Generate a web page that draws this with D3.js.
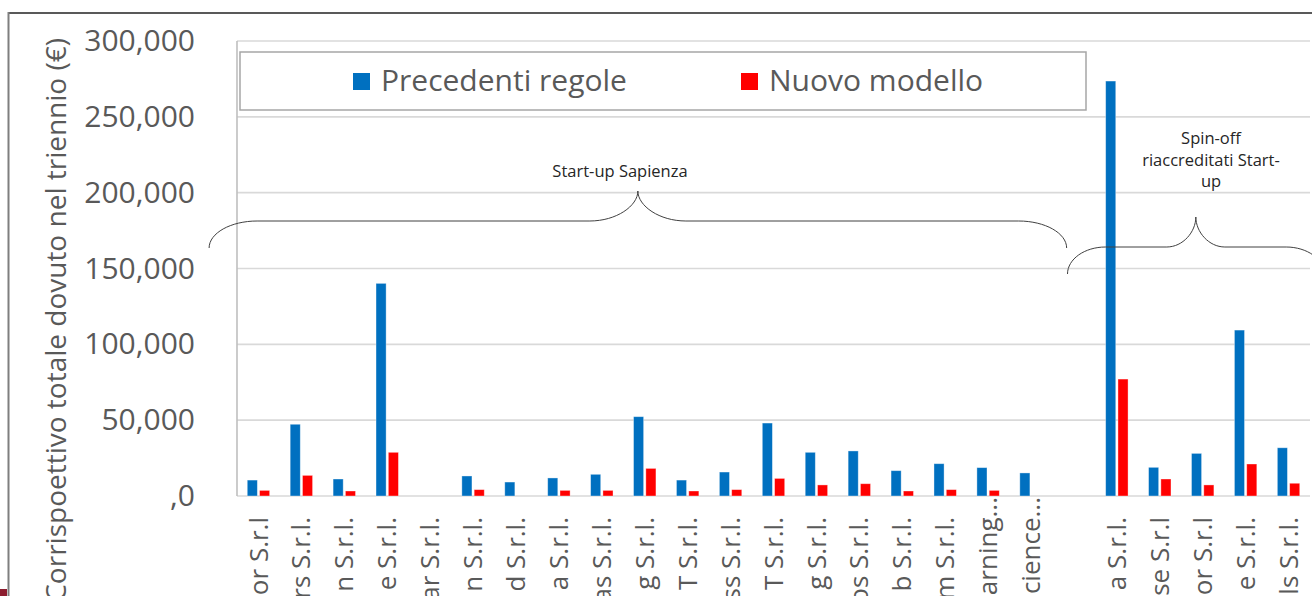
<!DOCTYPE html>
<html><head><meta charset="utf-8">
<script src="https://cdn.jsdelivr.net/npm/d3@7"></script>
<style>html,body{margin:0;padding:0;background:#fff;overflow:hidden}</style>
</head><body>
<svg id="chart" width="1312" height="596"></svg>
<script>
// ---- data ----
const categories = ["or S.r.l","rs S.r.l.","n S.r.l.","e S.r.l.","ar S.r.l.","n S.r.l.","d S.r.l.","a S.r.l.","as S.r.l.","g S.r.l.","T S.r.l.","ss S.r.l.","T S.r.l.","g S.r.l.","os S.r.l.","b S.r.l.","m S.r.l.","arning...","cience...","","a S.r.l.","se S.r.l","or S.r.l","e S.r.l.","ls S.r.l."];
const precedentiRegole = [10500,47300,11200,140200,0,13200,9200,11900,14300,52300,10500,15800,48100,28800,29700,16700,21300,18700,15200,null,273600,18900,28100,109400,31800];
const nuovoModello = [3700,13600,3300,28800,0,4200,0,3700,3700,18200,3300,4200,11600,7300,8100,3300,4200,3700,0,null,77100,11200,7300,21100,8400];
const seriesNames = ["Precedenti regole","Nuovo modello"];
const seriesColors = ["#0070C0","#FF0000"];
const yTickValues = [0,50000,100000,150000,200000,250000,300000];
const yTickLabels = [",0","50,000","100,000","150,000","200,000","250,000","300,000"];
const yTitle = "Corrispoettivo totale dovuto nel triennio (€)";
const groupLabels = [["Start-up Sapienza"],["Spin-off","riaccreditati Start-","up"]];
const groupFirst = [0,20];
const groupLast = [18,24];

// ---- chart ----
const W=1312,H=596;
const font="'Open Sans', sans-serif";
const svg=d3.select("#chart");
const seriesValues=[precedentiRegole,nuovoModello];

const x=d3.scaleBand().domain(d3.range(categories.length)).range([237,1310]).padding(0);
const y=d3.scaleLinear().domain([0,300000]).range([496,41]);
const groupW=22.4;
const x1=d3.scaleBand().domain(d3.range(seriesNames.length)).range([0,groupW]).paddingInner(0.18);
const color=d3.scaleOrdinal().domain(d3.range(seriesNames.length)).range(seriesColors);

// outer frame
svg.append("line").attr("x1",8).attr("x2",W).attr("y1",13).attr("y2",13).attr("stroke","#595959").attr("stroke-width",2);
svg.append("line").attr("x1",8.5).attr("x2",8.5).attr("y1",12).attr("y2",H).attr("stroke","#7f7f7f").attr("stroke-width",2);
svg.append("rect").attr("x",0).attr("y",589).attr("width",7).attr("height",7).attr("fill","#8c1d2f");

// gridlines
svg.append("g").selectAll("line").data(yTickValues).join("line")
  .attr("x1",x.range()[0]).attr("x2",x.range()[1])
  .attr("y1",d=>y(d)).attr("y2",d=>y(d))
  .attr("stroke","#d9d9d9").attr("stroke-width",1.6);

// y axis
const yAxis=d3.axisLeft(y).tickValues(yTickValues).tickFormat((d,i)=>yTickLabels[i]).tickSize(0).tickPadding(42);
const gy=svg.append("g").attr("transform",`translate(${x.range()[0]},0)`).call(yAxis);
gy.select(".domain").remove();
gy.selectAll("text").attr("font-family",font).attr("font-size",30).attr("fill","#595959");
svg.append("line").attr("x1",x.range()[0]).attr("x2",x.range()[0]).attr("y1",y(300000)).attr("y2",y(0))
  .attr("stroke","#bfbfbf").attr("stroke-width",1.6);

// y title
svg.append("text").attr("transform","translate(66,38) rotate(-90)")
  .attr("text-anchor","end").attr("font-family",font).attr("font-size",28).attr("fill","#595959")
  .text(yTitle);

// bars
const flat=[];
categories.forEach((c,i)=>seriesValues.forEach((arr,s)=>{ if(arr[i]!=null) flat.push({i,s,v:arr[i]}); }));
svg.append("g").selectAll("rect").data(flat).join("rect")
  .attr("x",d=>x(d.i)+(x.bandwidth()-groupW)/2+x1(d.s))
  .attr("width",x1.bandwidth())
  .attr("y",d=>y(d.v))
  .attr("height",d=>y(0)-y(d.v))
  .attr("fill",d=>color(d.s))
  .attr("stroke","rgba(255,255,255,0.45)").attr("stroke-width",0.8);

// x labels
svg.append("g").selectAll("text").data(categories.map((c,i)=>({c,i}))).join("text")
  .attr("transform",d=>`translate(${x(d.i)+x.bandwidth()/2},${d.c.endsWith("...")?497:517}) rotate(-90)`)
  .attr("dy","0.35em").attr("text-anchor","end")
  .attr("font-family",font).attr("font-size",26).attr("fill","#595959")
  .text(d=>d.c);

// legend
const lg=svg.append("g");
lg.append("rect").attr("x",240).attr("y",52).attr("width",846).attr("height",58)
  .attr("fill","#fff").attr("stroke","#a6a6a6").attr("stroke-width",1.5);
const legX=[353,741];
seriesNames.forEach((n,s)=>{
  lg.append("rect").attr("x",legX[s]).attr("y",73).attr("width",17).attr("height",17).attr("fill",color(s));
  lg.append("text").attr("x",legX[s]+28).attr("y",91).attr("font-family",font).attr("font-size",30)
    .attr("fill","#595959").text(n);
});

// braces
function bracePath(x0,x1b,yEnd,yMid,yTip,endW,tipW){
  const xm=(x0+x1b)/2;
  const ey=yEnd-yMid, ty=yMid-yTip;
  return `M${x0},${yEnd} C${x0},${yMid+ey*0.45} ${x0+endW*0.45},${yMid} ${x0+endW},${yMid}`+
    ` L${xm-tipW},${yMid} C${xm-tipW*0.45},${yMid} ${xm},${yTip+ty*0.5} ${xm},${yTip}`+
    ` C${xm},${yTip+ty*0.5} ${xm+tipW*0.45},${yMid} ${xm+tipW},${yMid}`+
    ` L${x1b-endW},${yMid} C${x1b-endW*0.45},${yMid} ${x1b},${yMid+ey*0.45} ${x1b},${yEnd}`;
}
const bw=x.bandwidth();
const braceY=[[248,221,191],[274,247,217]];
const braceW=[[48,48],[38,29]];
const labelCx=[620,1211];
const labelBase=[177,144];
groupFirst.forEach((f,g)=>{
  const left=x(f)-0.65*bw, right=x(groupLast[g])+bw+0.33*bw;
  svg.append("path").attr("d",bracePath(left,right,braceY[g][0],braceY[g][1],braceY[g][2],braceW[g][0],braceW[g][1]))
    .attr("fill","none").attr("stroke","#404040").attr("stroke-width",1);
  const t=svg.append("text").attr("font-family",font).attr("font-size",16.5).attr("fill","#262626").attr("text-anchor","middle");
  groupLabels[g].forEach((line,k)=>{
    t.append("tspan").attr("x",labelCx[g]).attr("y",labelBase[g]+k*21.5).text(line);
  });
});
</script>
</body></html>
